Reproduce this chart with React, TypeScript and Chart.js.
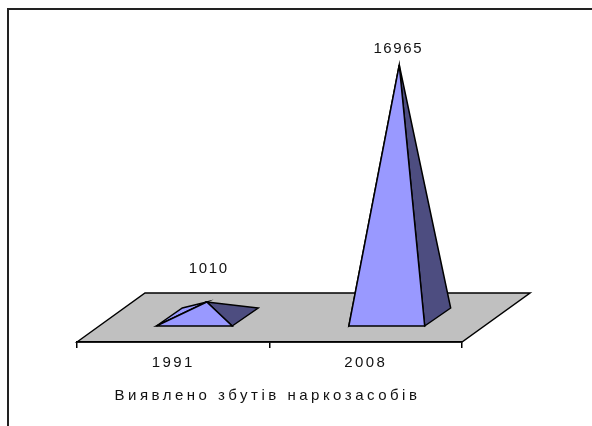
import React, { useEffect, useRef } from "react";
import { Chart, registerables } from "chart.js";

Chart.register(...registerables);

const categories = ["1991", "2008"];
const seizures = [1010, 16965];
const axisTitle = "Виявлено збутів наркозасобів";

const FONT = "'Liberation Sans', Arial, sans-serif";
const FRONT = "#9999FF";
const SIDE = "#4D4D80";
const FLOOR = "#C0C0C0";
const labelLift = [33, 16];
const labelShift = [2, -1];

const pyramids = {
  id: "pyramids",
  beforeDraw(chart: any) {
    const { ctx, chartArea: a } = chart;
    const x = chart.scales.x;
    if (!x.__spaced) {
      x.__spaced = true;
      const drawTitle = x.drawTitle.bind(x);
      const drawLabels = x.drawLabels.bind(x);
      x.drawTitle = (...args: any[]) => {
        ctx.save();
        ctx.letterSpacing = "3.5px";
        ctx.translate(-2, 0);
        drawTitle(...args);
        ctx.restore();
      };
      x.drawLabels = (...args: any[]) => {
        ctx.save();
        ctx.letterSpacing = "2.4px";
        drawLabels(...args);
        ctx.restore();
      };
    }
    ctx.save();
    ctx.fillStyle = "#fff";
    ctx.fillRect(0, 0, chart.width, chart.height);
    ctx.strokeStyle = "#222";
    ctx.lineWidth = 2;
    ctx.beginPath();
    ctx.moveTo(8, 426);
    ctx.lineTo(8, 9);
    ctx.lineTo(592, 9);
    ctx.stroke();
    // floor
    ctx.lineWidth = 1.5;
    ctx.strokeStyle = "#000";
    ctx.fillStyle = FLOOR;
    ctx.beginPath();
    ctx.moveTo(a.left, a.bottom);
    ctx.lineTo(a.left + 68, a.bottom - 49);
    ctx.lineTo(a.right + 68, a.bottom - 49);
    ctx.lineTo(a.right, a.bottom);
    ctx.closePath();
    ctx.fill();
    ctx.stroke();
    ctx.restore();
  },
  afterDatasetsDraw(chart: any) {
    const { ctx } = chart;
    const y = chart.scales.y;
    chart.getDatasetMeta(0).data.forEach((bar: any, i: number) => {
      const half = bar.width / 2;
      const base = y.getPixelForValue(0);
      const frontY = base - 16;
      const backY = base - 34;
      const fl = bar.x - half + 21;
      const fr = bar.x + half + 21;
      const bl = bar.x - half + 47;
      const br = bar.x + half + 47;
      const apexX = bar.x + 33.5;
      const apexY = y.getPixelForValue(seizures[i]) - 25;
      const face = (pts: number[][], color: string) => {
        ctx.beginPath();
        pts.forEach((p, k) => (k ? ctx.lineTo(p[0], p[1]) : ctx.moveTo(p[0], p[1])));
        ctx.closePath();
        ctx.fillStyle = color;
        ctx.fill();
        ctx.strokeStyle = "#000";
        ctx.lineWidth = 1.5;
        ctx.stroke();
      };
      ctx.save();
      face([[fl, frontY], [bl, backY], [apexX, apexY]], FRONT);
      face([[fr, frontY], [br, backY], [apexX, apexY]], SIDE);
      face([[fl, frontY], [fr, frontY], [apexX, apexY]], FRONT);
      ctx.fillStyle = "#111";
      ctx.font = `15px ${FONT}`;
      ctx.letterSpacing = "1.6px";
      ctx.textAlign = "center";
      ctx.textBaseline = "middle";
      ctx.fillText(String(seizures[i]), apexX + labelShift[i], apexY - labelLift[i]);
      ctx.restore();
    });
  },
};

export default function App() {
  const ref = useRef<HTMLCanvasElement>(null);
  useEffect(() => {
    document.body.style.margin = "0";
    const chart = new Chart(ref.current!, {
      type: "bar",
      data: {
        labels: categories,
        datasets: [
          {
            label: axisTitle,
            data: seizures,
            backgroundColor: "transparent",
            borderWidth: 0,
            categoryPercentage: 1,
            barPercentage: 0.394,
          },
        ],
      },
      options: {
        responsive: false,
        animation: false,
        layout: { padding: { left: 77, right: 130, top: 90, bottom: 0 } },
        plugins: { legend: { display: false }, tooltip: { enabled: false } },
        scales: {
          x: {
            afterFit(scale: any) {
              scale.height = 84;
            },
            border: { color: "#000", width: 1.5 },
            grid: { display: true, offset: true, drawOnChartArea: false, tickLength: 6, color: "#000", lineWidth: 1.5 },
            ticks: { color: "#111", font: { family: FONT, size: 15 }, padding: 6 },
            title: {
              display: true,
              text: axisTitle,
              color: "#111",
              font: { family: FONT, size: 15 },
              padding: { top: 10, bottom: 21 },
            },
          },
          y: { display: false, min: 0, max: 16965 },
        },
      },
      plugins: [pyramids],
    } as any);
    return () => chart.destroy();
  }, []);
  return <canvas ref={ref} width={592} height={426} style={{ display: "block", filter: "blur(0.5px)" }} />;
}
